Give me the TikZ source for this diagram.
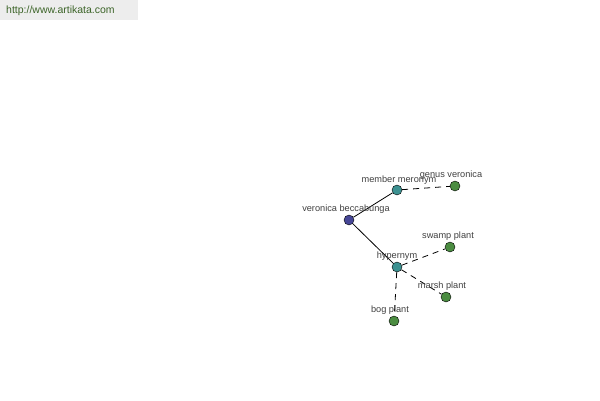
\documentclass[tikz,border=0pt]{standalone}
\usepackage{fontspec}
\setmainfont{Liberation Sans}
\definecolor{rootblue}{RGB}{70,70,150}
\definecolor{reltea}{RGB}{60,145,145}
\definecolor{leafgreen}{RGB}{75,140,65}
\definecolor{sitegreen}{RGB}{60,100,40}
\tikzset{
  word/.style = {shape=circle, draw, inner sep=0pt, minimum size=10pt,
                 fill=leafgreen},
  root/.style = {word, fill=rootblue},
  rel/.style  = {word, fill=reltea},
  leaf/.style = {word, fill=leafgreen},
  tag/.style  = {font=\fontsize{9.2}{11}\selectfont, text=black!75, inner sep=0pt},
  link/.style = {draw, line width=0.8pt},
  dlink/.style = {draw, line width=0.8pt, dash pattern=on 6pt off 5pt}
}
\begin{document}
\begin{tikzpicture}[x=1pt, y=-1pt]
  \useasboundingbox (0,0) rectangle (600,400);
  % site banner
  \fill[black!7] (0,0) rectangle (138,20);
  \node[font=\fontsize{10.5}{12}\selectfont, text=sitegreen, anchor=west, inner sep=0pt] (site) at (6,11) {http://www.artikata.com};

  % words
  \node[root] (vb) at (349,220) {};
  \node[rel]  (mm) at (397,190) {};
  \node[leaf] (gv) at (455,186) {};
  \node[rel]  (hy) at (397,267) {};
  \node[leaf] (sp) at (450,247) {};
  \node[leaf] (mp) at (446,297) {};
  \node[leaf] (bp) at (394,321) {};

  % links
  \path[link] (vb) -- (mm);
  \path[link] (vb) -- (hy);
  \path[dlink] (mm) -- (gv);
  \path[dlink] (hy) -- (sp);
  \path[dlink] (hy) -- (mp);
  \path[dlink] (hy) -- (bp);

  % tags
  \node[tag] (vbt) at (346,209) {veronica beccabunga};
  \node[tag] (mmt) at (399,180) {member meronym};
  \node[tag] (gvt) at (451,175) {genus veronica};
  \node[tag] (hyt) at (397,256) {hypernym};
  \node[tag] (spt) at (448,236) {swamp plant};
  \node[tag] (mpt) at (442,286) {marsh plant};
  \node[tag] (bpt) at (390,310) {bog plant};
\end{tikzpicture}
\end{document}
